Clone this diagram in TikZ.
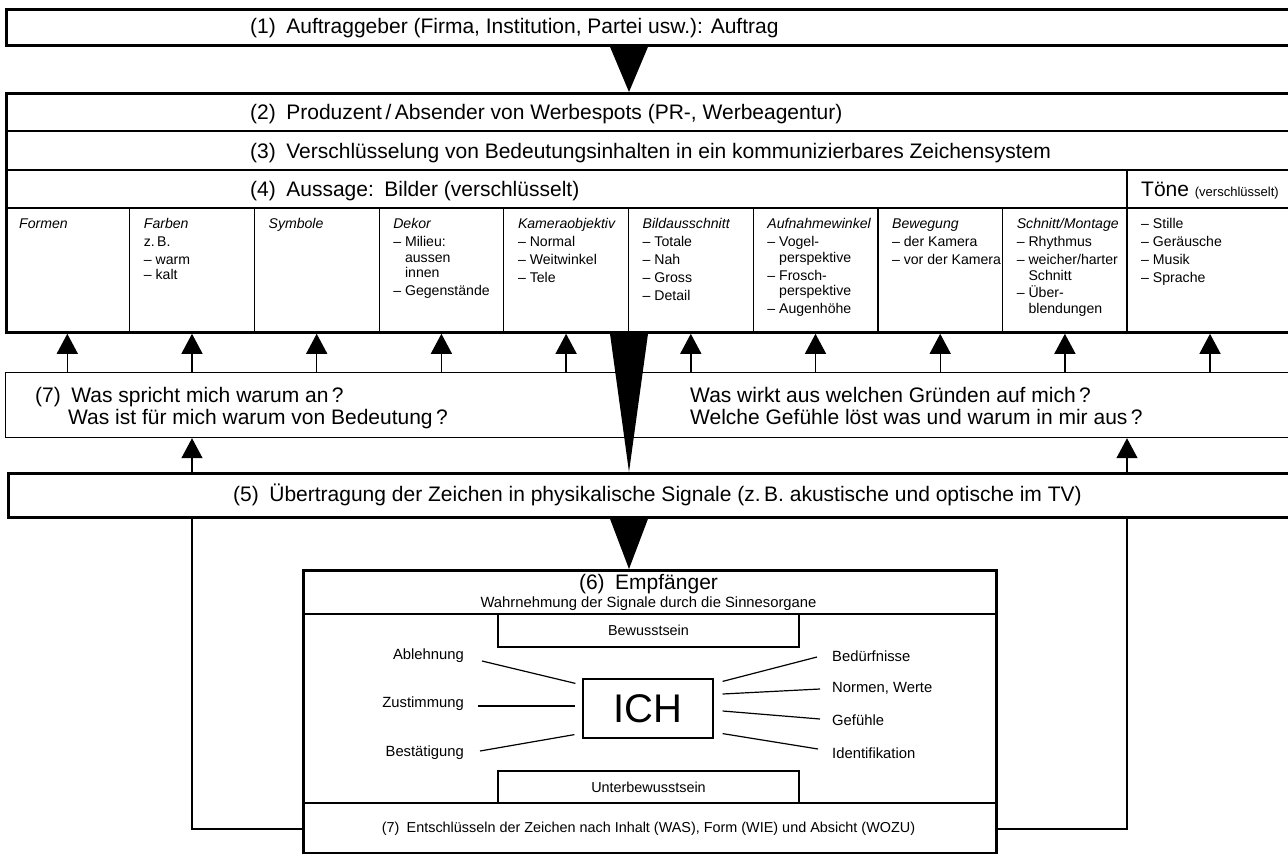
\documentclass[tikz,border=0pt]{standalone}
\usepackage{fontspec}
\setmainfont{Liberation Sans}
\usetikzlibrary{arrows.meta,positioning}

\newcommand{\rowfont}{\fontsize{21}{22}\selectfont}
\newcommand{\colfont}{\fontsize{14.1}{17.8}\selectfont}
\newcommand{\labfont}{\fontsize{14.8}{16}\selectfont}
\newcommand{\boxfont}{\fontsize{14.4}{16}\selectfont}
\newcommand{\weiter}{\hphantom{– }}

\begin{document}
\begin{tikzpicture}[x=1pt,y=-1pt,
    every node/.style={inner sep=0pt},
    heavy/.style={draw,line width=2.8pt,anchor=north west},
    light/.style={draw,line width=1.2pt},
    up/.style={line width=1.4pt,-{Triangle[width=21pt,length=20pt]}},
    zeile/.style={anchor=base west,font=\rowfont},
    spalte/.style={anchor=north west,align=left,font=\colfont},
    lab/.style={font=\labfont}]
  \useasboundingbox (0,0) rectangle (1288,854);
  \clip (0,0) rectangle (1288,854);

  % boxes
  \node[heavy,minimum width=1300pt,minimum height=36pt] (auftrag) at (5,8) {};
  \node[heavy,minimum width=1300pt,minimum height=239pt] (absender) at (5,92) {};
  \node[light,anchor=north west,minimum width=1300pt,minimum height=65pt] (fragen) at (5,372) {};
  \node[heavy,minimum width=1300pt,minimum height=44pt] (signale) at (7,472) {};
  \node[heavy,minimum width=693pt,minimum height=283pt] (empfaenger) at (302,569) {};

  % rows (2)-(4)
  \draw[line width=2pt] (5,131) -- (1300,131);
  \draw[light] (5,170) -- (1300,170);
  \draw[light] (5,208) -- (1300,208);
  \foreach \i in {1,...,8} \draw[light] ({5+124.7*\i},208) -- ({5+124.7*\i},331);
  \draw[light] (1127,170) -- (1127,331);

  \node[zeile] (t1) at (250,33.5) {(1)\enspace Auftraggeber (Firma, Institution, Partei usw.): Auftrag};
  \node[zeile] (t2) at (250,119) {(2)\enspace Produzent\,/\,Absender von Werbespots (PR-, Werbeagentur)};
  \node[zeile] (t3) at (250,158) {(3)\enspace Verschlüsselung von Bedeutungsinhalten in ein kommunizierbares Zeichensystem};
  \node[zeile] (t4) at (250,196.5) {(4)\enspace Aussage:\enspace Bilder (verschlüsselt)};
  \node[zeile] (toene) at (1141,196.5) {Töne {\fontsize{13}{15}\selectfont (verschlüsselt)}};

  % columns
  \node[spalte] (formen) at (19,218.5) {\textit{Formen}};
  \node[spalte] (farben) at (143.7,218.5) {\textit{Farben}\\ z.\,B.\\ – warm\\[-2.8pt] – kalt};
  \node[spalte] (symbole) at (268.4,218.5) {\textit{Symbole}};
  \node[spalte] (dekor) at (393.1,218.5) {\textit{Dekor}\\ – Milieu:\\[-2.3pt] \weiter aussen\\[-2.3pt] \weiter innen\\ – Gegenstände};
  \node[spalte] (kamera) at (517.8,218.5) {\textit{Kameraobjektiv}\\ – Normal\\ – Weitwinkel\\ – Tele};
  \node[spalte] (bild) at (642.5,218.5) {\textit{Bildausschnitt}\\ – Totale\\ – Nah\\ – Gross\\ – Detail};
  \node[spalte] (winkel) at (767.2,218.5) {\textit{Aufnahmewinkel}\\ – Vogel-\\[-2.3pt] \weiter perspektive\\ – Frosch-\\[-2.3pt] \weiter perspektive\\ – Augenhöhe};
  \node[spalte] (bewegung) at (891.9,218.5) {\textit{Bewegung}\\ – der Kamera\\ – vor der Kamera};
  \node[spalte] (schnitt) at (1016.6,218.5) {\textit{Schnitt/Montage}\\ – Rhythmus\\ – weicher/harter\\[-2.3pt] \weiter Schnitt\\ – Über-\\[-2.3pt] \weiter blendungen};
  \node[spalte] (toeneliste) at (1141,218.5) {– Stille\\ – Geräusche\\ – Musik\\ – Sprache};

  % (7) questions
  \node[zeile] (t7a) at (35,402) {(7)\enspace Was spricht mich warum an\,?};
  \node[zeile] (t7b) at (68,424) {Was ist für mich warum von Bedeutung\,?};
  \node[zeile] (t7c) at (690,402) {Was wirkt aus welchen Gründen auf mich\,?};
  \node[zeile] (t7d) at (690,424) {Welche Gefühle löst was und warum in mir aus\,?};

  % (5)
  \node[zeile] (t5) at (233,501.5) {(5)\enspace Übertragung der Zeichen in physikalische Signale (z.\,B. akustische und optische im TV)};

  % (6) receiver
  \draw[light] (302,614) -- (995,614);
  \draw[light] (302,803) -- (995,803);
  \node[font=\rowfont] (t6) at (648.5,584) {(6)\enspace Empfänger};
  \node[lab] (t6b) at (648.5,604) {Wahrnehmung der Signale durch die Sinnesorgane};
  \node[light,font=\boxfont,minimum width=301pt,minimum height=33pt] (bewusst) at (648.5,630.5) {Bewusstsein};
  \node[light,font=\boxfont,minimum width=301pt,minimum height=32pt] (unterbewusst) at (648.5,787) {Unterbewusstsein};
  \node[light,minimum width=130pt,minimum height=59pt,font=\fontsize{40}{40}\selectfont] (ich) at (648,708.5) {ICH};
  \node[lab,anchor=east] (abl) at (464,656) {Ablehnung};
  \node[lab,anchor=east] (zus) at (464,704) {Zustimmung};
  \node[lab,anchor=east] (bes) at (464,753) {Bestätigung};
  \node[lab,anchor=west] (bed) at (832,656) {Bedürfnisse};
  \node[lab,anchor=west] (nor) at (832,688) {Normen, Werte};
  \node[lab,anchor=west] (gef) at (832,720) {Gefühle};
  \node[lab,anchor=west] (ide) at (832,753) {Identifikation};
  \node[font=\boxfont] (t8) at (648.5,829) {(7)\enspace Entschlüsseln der Zeichen nach Inhalt (WAS), Form (WIE) und Absicht (WOZU)};

  \draw[light] ([shift={(18,5)}]abl.east) -- ([shift={(-7,5)}]ich.north west);
  \draw[light] ([shift={(14,2)}]zus.east) -- ([shift={(-7,-2.5)}]ich.west);
  \draw[light] ([shift={(16,-2)}]bes.east) -- ([shift={(-8,-4)}]ich.south west);
  \draw[light] ([shift={(9,3)}]ich.north east) -- ([shift={(-15,1)}]bed.west);
  \draw[light] ([shift={(9,-14.5)}]ich.east) -- ([shift={(-12,1)}]nor.west);
  \draw[light] ([shift={(9,2.5)}]ich.east) -- ([shift={(-12,-1)}]gef.west);
  \draw[light] ([shift={(9,-5)}]ich.south east) -- ([shift={(-14,-4)}]ide.west);

  % arrows
  \foreach \i in {0,...,8} \coordinate (a\i) at ({67.3+124.7*\i},0);
  \coordinate (a9) at (1210,0);
  \coordinate (b9) at (1127,0);
  \foreach \i in {0,...,9} \draw[up] (a\i |- fragen.north) -- (a\i |- absender.south);
  \draw[up] (a1 |- signale.north) -- (a1 |- fragen.south);
  \draw[up] (b9 |- signale.north) -- (b9 |- fragen.south);
  \draw[light] (a1 |- signale.south) |- (empfaenger.west |- t8);
  \draw[light] (b9 |- signale.south) |- (empfaenger.east |- t8);

  % wedges
  \coordinate (m) at (629,0);
  \fill (m |- auftrag.south) ++(-19,0) -- ++(38,0) -- (m |- absender.north) -- cycle;
  \fill (m |- absender.south) ++(-19,0) -- ++(38,0) -- (m |- signale.north) -- cycle;
  \fill (m |- signale.south) ++(-19,0) -- ++(38,0) -- (m |- empfaenger.north) -- cycle;
\end{tikzpicture}
\end{document}
